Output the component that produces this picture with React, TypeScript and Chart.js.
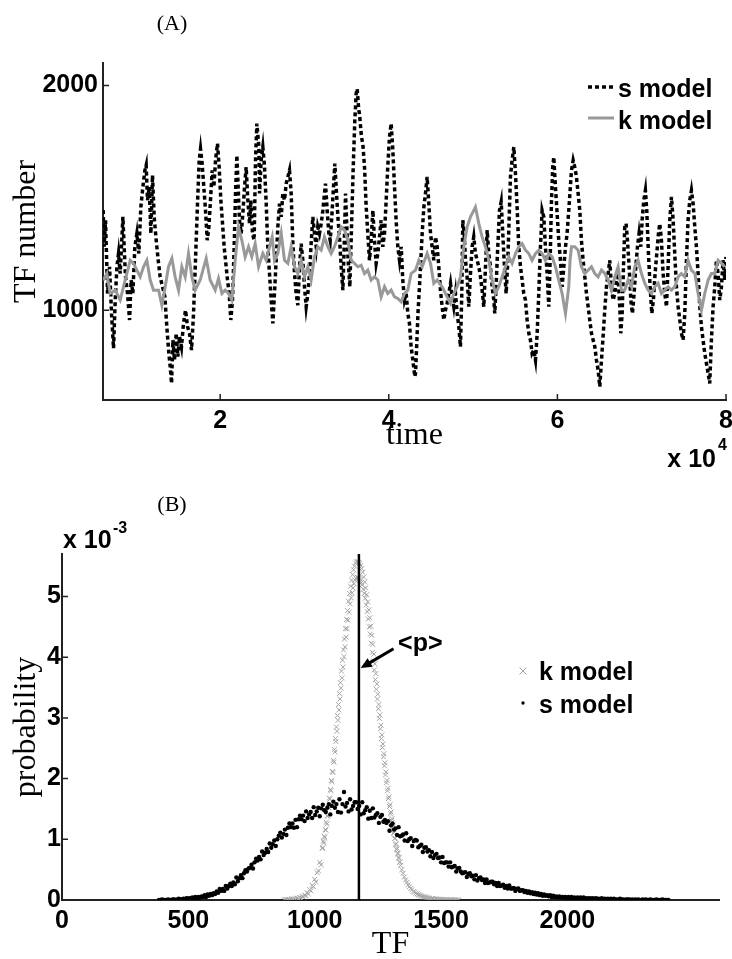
import React, { useEffect, useRef } from "react";
import { Chart, registerables } from "chart.js";

Chart.register(...registerables);

// ---------------- Panel (A): TF number vs time ----------------
const sModelSeries: [number, number][] = [
  [6120,1445],[6240,1282],[6400,1400],[6640,1074],[6880,1193],[7110,985],[7350,830],[7550,1045],[7750,1193],[7940,1252],
  [8140,1163],[8460,1415],[8610,1282],[8770,1148],[9010,1074],[9250,956],[9440,1134],[9640,1074],[9880,1282],[10120,1341],
  [10350,1252],[10590,1459],[10830,1548],[11070,1622],[11220,1645],[11380,1489],[11580,1548],[11780,1341],[11970,1600],[12170,1415],
  [12410,1311],[12650,1222],[12880,1148],[13160,1104],[13440,1059],[13670,926],[13910,808],[14070,749],[14230,674],[14390,867],
  [14580,778],[14780,897],[14980,793],[15180,882],[15410,837],[15650,941],[15890,1000],[16130,926],[16360,897],[16600,822],
  [16840,985],[17070,1222],[17310,1474],[17510,1667],[17670,1718],[17860,1652],[18060,1548],[18260,1444],[18460,1311],[18660,1370],
  [18850,1489],[19050,1622],[19250,1548],[19450,1667],[19680,1741],[19880,1637],[20080,1489],[20280,1385],[20470,1282],[20670,1208],
  [20870,1134],[21070,1074],[21260,956],[21460,1045],[21660,1282],[21820,1519],[21980,1689],[22130,1548],[22290,1400],[22490,1341],
  [22690,1430],[22890,1548],[23080,1637],[23280,1489],[23480,1385],[23640,1489],[23830,1341],[24030,1311],[24190,1667],[24350,1830],
  [24590,1726],[24670,1519],[24860,1667],[25060,1726],[25260,1637],[25460,1474],[25650,1282],[25850,1163],[26050,1045],[26250,941],
  [26440,1074],[26640,1222],[26840,1370],[27040,1474],[27240,1415],[27430,1519],[27630,1489],[27830,1563],[28030,1593],[28220,1622],
  [28420,1519],[28620,1296],[28820,1163],[29010,1074],[29210,1022],[29410,1193],[29610,1296],[29800,1222],[30000,1104],[30200,1015],
  [30400,1074],[30600,1163],[30790,1296],[30990,1415],[31190,1341],[31390,1282],[31580,1370],[31780,1341],[31980,1385],[32180,1444],
  [32370,1519],[32490,1563],[32690,1444],[32890,1341],[33050,1311],[33240,1415],[33440,1548],[33600,1652],[33800,1519],[33990,1400],
  [34150,1326],[34350,1193],[34550,1089],[34710,1282],[34870,1519],[35020,1370],[35180,1222],[35380,1104],[35580,1370],[35770,1622],
  [35970,1844],[36130,1963],[36250,1985],[36410,1904],[36560,1859],[36760,1770],[36920,1741],[37120,1637],[37320,1459],[37510,1341],
  [37710,1222],[37910,1311],[38110,1444],[38300,1311],[38500,1208],[38700,1252],[38900,1326],[39090,1400],[39290,1282],[39490,1341],
  [39690,1489],[39880,1637],[40080,1770],[40280,1830],[40480,1711],[40680,1548],[40870,1400],[41070,1282],[41270,1222],[41470,1282],
  [41660,1134],[41860,1045],[42060,1074],[42260,985],[42450,941],[42650,837],[42850,778],[43090,704],[43170,719],[43320,852],
  [43480,1000],[43640,1104],[43800,1222],[43960,1341],[44160,1459],[44350,1519],[44550,1593],[44750,1474],[44950,1341],[45140,1282],
  [45340,1222],[45540,1326],[45740,1282],[45930,1193],[46130,1089],[46330,1015],[46530,956],[46720,1000],[46920,1030],[47120,1074],
  [47320,1119],[47520,1059],[47710,1015],[47910,1074],[48110,985],[48310,926],[48500,837],[48660,1074],[48780,1400],[48940,1341],
  [49100,1222],[49290,1148],[49490,1015],[49690,1163],[49890,1282],[50080,1326],[50280,1252],[50480,1222],[50680,1193],[50880,1148],
  [51070,1089],[51270,1015],[51470,1193],[51670,1356],[51860,1252],[52060,1193],[52260,1104],[52460,1045],[52570,985],[52730,1104],
  [52890,1252],[53130,1444],[53330,1482],[53520,1341],[53720,1193],[53920,1074],[54120,1222],[54270,1400],[54430,1593],[54630,1667],
  [54830,1726],[55030,1607],[55220,1459],[55420,1282],[55620,1193],[55820,1134],[56010,1074],[56210,1045],[56410,956],[56610,897],
  [56800,867],[57000,808],[57200,822],[57400,778],[57600,897],[57790,1074],[57990,1282],[58190,1444],[58390,1415],[58580,1282],
  [58780,1163],[58980,1015],[59140,1222],[59300,1489],[59450,1637],[59570,1681],[59770,1548],[59970,1430],[60160,1311],[60360,1222],
  [60560,1104],[60760,1193],[60960,1282],[61150,1341],[61350,1444],[61590,1578],[61670,1622],[61870,1667],[62060,1637],[62260,1593],
  [62460,1519],[62660,1444],[62850,1311],[63050,1222],[63250,1148],[63450,1074],[63650,1015],[63840,956],[64040,897],[64240,867],
  [64440,837],[64630,778],[64830,734],[65030,660],[65230,778],[65420,882],[65620,1000],[65820,1104],[66020,1163],[66210,1222],
  [66410,1104],[66610,1045],[66810,1074],[67010,1134],[67200,1148],[67400,1015],[67520,897],[67680,985],[67840,1193],[67990,1370],
  [68150,1385],[68310,1311],[68510,1193],[68710,1045],[68900,985],[69100,1074],[69300,1193],[69500,1282],[69690,1341],[69890,1282],
  [70050,1400],[70250,1489],[70440,1533],[70600,1444],[70800,1252],[71000,1104],[71200,985],[71390,1045],[71590,1163],[71790,1252],
  [71990,1341],[72140,1385],[72340,1311],[72540,1163],[72740,1074],[72940,1015],[73130,1193],[73330,1400],[73530,1504],[73730,1400],
  [73920,1252],[74120,1104],[74320,1015],[74520,956],[74710,897],[74910,867],[75110,985],[75310,1222],[75500,1400],[75700,1489],
  [75900,1533],[76100,1474],[76300,1370],[76490,1282],[76690,1163],[76890,1015],[77090,926],[77280,867],[77480,808],[77680,763],
  [77880,719],[78070,674],[78270,867],[78470,1015],[78670,1104],[78860,1222],[79060,1163],[79260,1045],[79460,1104],[79650,1222],
  [79850,1134],[80000,1237],
];

const kModelSeries: [number, number][] = [
  [6120,1133],[6560,1163],[6950,1074],[7550,1089],[8140,1045],[8730,1134],[9330,1222],[9720,1208],[10120,1178],[10510,1148],
  [10910,1193],[11300,1222],[11700,1134],[12090,1089],[12690,1089],[13080,1022],[13480,1104],[13870,1193],[14270,1230],[14660,1148],
  [15060,1089],[15450,1193],[15850,1148],[16240,1252],[16640,1148],[17030,1089],[17630,1134],[18340,1230],[18810,1134],[19410,1089],
  [19800,1141],[20200,1074],[20590,1089],[20990,1074],[21380,1045],[21780,1222],[22170,1370],[22570,1311],[22960,1237],[23360,1282],
  [23750,1237],[24150,1296],[24550,1193],[25060,1252],[25460,1222],[25850,1282],[26170,1326],[26440,1222],[26840,1252],[27240,1341],
  [27630,1222],[28030,1208],[28420,1282],[28820,1193],[29210,1163],[29610,1222],[30000,1148],[30400,1193],[30790,1134],[31190,1237],
  [31580,1282],[31980,1267],[32370,1326],[32770,1282],[33160,1252],[33560,1282],[33960,1326],[34350,1370],[34750,1356],[35140,1311],
  [35540,1222],[35930,1208],[36330,1193],[36720,1200],[37120,1163],[37510,1178],[37910,1134],[38300,1148],[38700,1134],[39090,1059],
  [39490,1104],[39880,1074],[40280,1089],[40680,1059],[41070,1052],[41470,1037],[41860,1074],[42260,1089],[42650,1163],[43170,1178],
  [43560,1222],[43960,1193],[44550,1252],[44950,1208],[45340,1119],[45740,1134],[46330,1104],[46920,1059],[47320,1030],[47710,1074],
  [48110,1104],[48500,1148],[48900,1282],[49290,1370],[49690,1415],[50080,1444],[50280,1459],[50680,1385],[51070,1326],[51470,1282],
  [51860,1222],[52260,1134],[52650,1074],[53050,1104],[53440,1148],[53840,1193],[54240,1237],[54630,1208],[55030,1252],[55420,1282],
  [55820,1296],[56210,1267],[56610,1252],[57000,1222],[57400,1252],[57790,1267],[58190,1252],[58580,1222],[58980,1252],[59370,1237],
  [59770,1193],[60160,1134],[60560,1074],[60960,985],[61350,1104],[61500,1222],[61670,1282],[62060,1282],[62460,1267],[62850,1193],
  [63250,1163],[63650,1178],[64040,1193],[64440,1163],[64830,1148],[65230,1178],[65620,1163],[66020,1134],[66410,1089],[66810,1148],
  [67200,1193],[67600,1089],[67990,1089],[68390,1134],[68780,1104],[69180,1193],[69570,1222],[69970,1163],[70370,1119],[70760,1089],
  [71160,1074],[71550,1104],[71950,1119],[72340,1074],[72740,1089],[73130,1104],[73530,1089],[73920,1104],[74320,1148],[74710,1163],
  [75110,1148],[75500,1222],[75900,1178],[76300,1163],[76690,1074],[77090,1000],[77480,1074],[77880,1134],[78270,1163],[78670,1163],
  [79060,1222],[79460,1208],[79850,1193],
];

const timeMin = 6100;
const timeMax = 80000;
const timeTicks = [20000, 40000, 60000, 80000];
const countMin = 600;
const countMax = 2100;
const countTicks = [1000, 2000];

// ---------------- Panel (B): probability (x 1e-3) vs TF ----------------
// k model: left tail (step 5), steep core (step 2), right tail (step 5)
const kLeftStart = 880, kLeftStep = 5;
const kProbLeft = [
  0.00,0.01,0.00,0.01,0.01,0.00,0.02,0.01,0.02,0.01,
  0.03,0.02,0.04,0.03,0.06,0.05,0.08,0.07,0.12,0.10,
  0.17,0.15,0.24,0.22,0.34,0.30,0.45,0.48,0.62,0.58,
];
const kCoreStart = 1030, kCoreStep = 2;
const kProbCore = [
  0.85,0.86,0.97,0.94,1.05,1.03,1.16,1.15,1.28,1.25,
  1.38,1.39,1.53,1.52,1.68,1.66,1.82,1.80,1.97,1.95,
  2.12,2.10,2.30,2.27,2.48,2.44,2.66,2.61,2.85,2.78,
  3.04,2.96,3.22,3.13,3.40,3.31,3.58,3.49,3.77,3.66,
  3.95,3.84,4.12,4.01,4.30,4.17,4.47,4.33,4.62,4.47,
  4.77,4.61,4.92,4.74,5.05,4.88,5.17,4.98,5.27,5.06,
  5.36,5.14,5.44,5.21,5.50,5.27,5.55,5.30,5.57,5.32,
  5.58,5.31,5.56,5.30,5.54,5.28,5.51,5.23,5.46,5.19,
  5.40,5.12,5.32,5.05,5.24,4.97,5.14,4.86,5.03,4.75,
  4.91,4.63,4.78,4.50,4.65,4.38,4.51,4.23,4.36,4.08,
  4.21,3.94,4.05,3.79,3.89,3.63,3.73,3.47,3.56,3.31,
  3.39,3.15,3.22,2.99,3.05,2.82,2.88,2.66,2.72,2.51,
  2.57,2.36,2.41,2.21,2.26,2.06,2.11,1.93,1.97,1.80,
  1.84,1.67,1.70,1.54,1.57,1.42,1.45,1.31,1.34,1.20,
  1.23,1.10,1.12,1.01,1.02,0.91,0.93,0.83,0.85,0.76,
  0.77,0.69,0.70,0.62,0.63,
];
const kRightStart = 1340, kRightStep = 5;
const kProbRight = [
  0.57,0.50,0.44,0.38,0.33,0.29,0.25,0.22,
  0.19,0.17,0.14,0.13,0.11,0.10,0.09,0.08,0.07,0.06,
  0.05,0.05,0.04,0.04,0.03,0.03,0.02,0.02,0.02,0.01,
  0.02,0.01,0.01,0.01,0.01,0.00,0.01,0.00,0.01,0.00,
  0.00,0.01,0.00,0.00,0.00,0.00,0.00,0.00,0.00,
];

const sTfStart = 384;
const sTfStep = 6;
const sProb = [
  0.00,0.00,0.01,0.00,0.00,0.00,0.01,0.00,0.00,0.01,
  0.01,0.00,0.01,0.02,0.01,0.01,0.02,0.01,0.03,0.02,
  0.03,0.02,0.04,0.02,0.05,0.03,0.05,0.04,0.06,0.05,
  0.08,0.05,0.09,0.07,0.10,0.08,0.11,0.10,0.14,0.12,
  0.18,0.15,0.18,0.15,0.23,0.19,0.23,0.27,0.23,0.29,
  0.26,0.37,0.31,0.36,0.41,0.36,0.44,0.49,0.47,0.52,
  0.53,0.58,0.52,0.62,0.68,0.65,0.71,0.67,0.80,0.74,
  0.78,0.84,0.79,0.93,0.86,0.92,0.98,0.89,1.00,1.06,
  1.11,1.03,1.09,1.16,1.07,1.19,1.26,1.20,1.26,1.19,
  1.32,1.20,1.33,1.39,1.33,1.39,1.30,1.46,1.35,1.41,
  1.45,1.35,1.53,1.40,1.46,1.52,1.38,1.51,1.57,1.48,
  1.45,1.52,1.58,1.41,1.55,1.62,1.52,1.58,1.45,1.66,
  1.44,1.58,1.78,1.54,1.60,1.46,1.66,1.49,1.55,1.61,
  1.61,1.50,1.55,1.41,1.61,1.43,1.48,1.53,1.34,1.47,
  1.35,1.51,1.36,1.40,1.43,1.27,1.37,1.40,1.29,1.32,
  1.27,1.30,1.14,1.23,1.26,1.16,1.18,1.07,1.20,1.05,
  1.06,1.08,0.98,1.10,0.97,1.00,1.02,0.89,0.97,0.99,
  0.98,0.87,0.89,0.91,0.79,0.86,0.87,0.80,0.82,0.72,
  0.79,0.69,0.74,0.76,0.69,0.70,0.62,0.71,0.61,0.62,
  0.62,0.55,0.62,0.54,0.55,0.56,0.47,0.52,0.53,0.47,
  0.44,0.45,0.46,0.38,0.43,0.44,0.39,0.40,0.34,0.41,
  0.32,0.36,0.37,0.33,0.34,0.28,0.34,0.28,0.29,0.30,
  0.30,0.26,0.28,0.23,0.28,0.23,0.24,0.25,0.20,0.23,
  0.19,0.24,0.19,0.19,0.20,0.15,0.18,0.19,0.15,0.16,
  0.16,0.13,0.15,0.12,0.14,0.11,0.13,0.10,0.12,0.09,
  0.11,0.08,0.10,0.07,0.09,0.07,0.08,0.06,0.08,0.05,
  0.07,0.05,0.06,0.04,0.06,0.04,0.05,0.04,0.05,0.03,
  0.05,0.03,0.05,0.03,0.04,0.03,0.04,0.02,0.04,0.03,
  0.04,0.02,0.03,0.02,0.03,0.02,0.03,0.01,0.03,0.02,
  0.02,0.01,0.03,0.01,0.02,0.01,0.02,0.01,0.02,0.01,
  0.02,0.01,0.01,0.00,0.02,0.01,0.01,0.00,0.01,0.01,
  0.01,0.00,0.01,0.00,0.01,0.00,0.01,0.00,0.00,0.01,
  0.00,0.01,0.00,0.00,0.01,0.00,0.00,0.00,0.01,0.00,
  0.00,0.00,0.01,0.00,0.00,0.00,0.00,
];

const pMean = 1175;
const tfMin = 0;
const tfMax = 2600;
const tfTicks = [0, 500, 1000, 1500, 2000];
const probMin = 0;
const probMax = 5.7;
const probTicks = [0, 1, 2, 3, 4, 5];
// annotation "<p>" arrow (data coordinates: TF, probability x1e-3)
const arrowTail: [number, number] = [1312, 4.14];
const arrowTip: [number, number] = [1182, 3.82];
const pLabelAt: [number, number] = [1330, 4.1];

// ---------------- styles ----------------
const SANS = "'Liberation Sans', Arial, Helvetica, sans-serif";
const SERIF = "'Liberation Serif', 'Times New Roman', serif";
const BLACK = "#000000";
const AXIS = "#222222";
const GRAY_LINE = "#999999";
const GRAY_X = "#a4a4a4";
const S_DASH = [4, 3];

function txt(ctx: CanvasRenderingContext2D, s: string, x: number, y: number, font: string, align: CanvasTextAlign = "left", rot = 0) {
  ctx.save();
  ctx.font = font;
  ctx.fillStyle = BLACK;
  ctx.textAlign = align;
  ctx.textBaseline = "alphabetic";
  ctx.translate(x, y);
  if (rot) ctx.rotate(rot);
  ctx.fillText(s, 0, 0);
  ctx.restore();
}

const panelAPlugin = {
  id: "panelA",
  afterDraw(chart: any) {
    const { ctx, chartArea, scales } = chart;
    const xs = scales.x, ys = scales.y;
    ctx.save();
    ctx.strokeStyle = AXIS;
    ctx.lineWidth = 1.5;
    ctx.beginPath();
    timeTicks.forEach((v) => {
      const px = xs.getPixelForValue(v);
      ctx.moveTo(px, chartArea.bottom);
      ctx.lineTo(px, chartArea.bottom - 6);
    });
    countTicks.forEach((v) => {
      const py = ys.getPixelForValue(v);
      ctx.moveTo(chartArea.left, py);
      ctx.lineTo(chartArea.left + 6, py);
    });
    ctx.stroke();

    // legend
    const ds = chart.data.datasets;
    const lx0 = chartArea.right - 138, lx1 = chartArea.right - 112;
    ctx.lineWidth = 3.5;
    ctx.strokeStyle = ds[0].borderColor;
    ctx.setLineDash(S_DASH);
    ctx.beginPath(); ctx.moveTo(lx0, 87); ctx.lineTo(lx1, 87); ctx.stroke();
    ctx.setLineDash([]);
    ctx.lineWidth = 3;
    ctx.strokeStyle = ds[1].borderColor;
    ctx.beginPath(); ctx.moveTo(lx0, 118); ctx.lineTo(lx1, 118); ctx.stroke();
    ctx.restore();

    const bold = `bold 25px ${SANS}`;
    txt(ctx, ds[0].label, lx1 + 4, 97, bold);
    txt(ctx, ds[1].label, lx1 + 4, 129, bold);

    // titles
    txt(ctx, "(A)", 172, 30, `22px ${SERIF}`, "center");
    txt(ctx, "TF number", 35, (chartArea.top + chartArea.bottom) / 2, `32px ${SERIF}`, "center", -Math.PI / 2);
    txt(ctx, "time", (chartArea.left + chartArea.right) / 2, 444, `32px ${SERIF}`, "center");
    txt(ctx, "x 10", chartArea.right - 10, 467, bold, "right");
    txt(ctx, "4", chartArea.right - 8, 450, `bold 16px ${SANS}`, "left");
  },
};

const panelBPlugin = {
  id: "panelB",
  afterDraw(chart: any) {
    const { ctx, chartArea, scales } = chart;
    const xs = scales.x, ys = scales.y;
    ctx.save();
    ctx.strokeStyle = AXIS;
    ctx.lineWidth = 1.5;
    ctx.beginPath();
    probTicks.forEach((v) => {
      const py = ys.getPixelForValue(v);
      ctx.moveTo(chartArea.left, py);
      ctx.lineTo(chartArea.left + 6, py);
    });
    ctx.stroke();

    // arrow annotation
    const tx = xs.getPixelForValue(arrowTail[0]), ty = ys.getPixelForValue(arrowTail[1]);
    const hx = xs.getPixelForValue(arrowTip[0]), hy = ys.getPixelForValue(arrowTip[1]);
    const ang = Math.atan2(hy - ty, hx - tx);
    const hl = 11, hw = 5;
    ctx.strokeStyle = BLACK;
    ctx.fillStyle = BLACK;
    ctx.lineWidth = 3;
    ctx.beginPath();
    ctx.moveTo(tx, ty);
    ctx.lineTo(hx - Math.cos(ang) * hl * 0.8, hy - Math.sin(ang) * hl * 0.8);
    ctx.stroke();
    ctx.beginPath();
    ctx.moveTo(hx, hy);
    ctx.lineTo(hx - Math.cos(ang) * hl + Math.sin(ang) * hw, hy - Math.sin(ang) * hl - Math.cos(ang) * hw);
    ctx.lineTo(hx - Math.cos(ang) * hl - Math.sin(ang) * hw, hy - Math.sin(ang) * hl + Math.cos(ang) * hw);
    ctx.closePath();
    ctx.fill();

    // legend
    const ds = chart.data.datasets;
    const mx = chartArea.right - 196;
    ctx.strokeStyle = ds[0].borderColor;
    ctx.lineWidth = 1;
    ctx.beginPath();
    ctx.moveTo(mx - 3.5, 191 - 3.5); ctx.lineTo(mx + 3.5, 191 + 3.5);
    ctx.moveTo(mx - 3.5, 191 + 3.5); ctx.lineTo(mx + 3.5, 191 - 3.5);
    ctx.stroke();
    ctx.fillStyle = ds[1].backgroundColor;
    ctx.beginPath(); ctx.arc(mx, 223, 1.7, 0, Math.PI * 2); ctx.fill();
    ctx.restore();

    const bold = `bold 25px ${SANS}`;
    txt(ctx, ds[0].label, mx + 16, 200, bold);
    txt(ctx, ds[1].label, mx + 16, 233, bold);
    txt(ctx, "<p>", xs.getPixelForValue(pLabelAt[0]), ys.getPixelForValue(pLabelAt[1]), bold);

    // titles
    txt(ctx, "(B)", 172, 31, `22px ${SERIF}`, "center");
    txt(ctx, "x 10", chartArea.left + 1, 68, bold);
    txt(ctx, "-3", chartArea.left + 51, 53, `bold 16px ${SANS}`);
    txt(ctx, "probability", 35, (chartArea.top + chartArea.bottom) / 2, `32px ${SERIF}`, "center", -Math.PI / 2);
    txt(ctx, "TF", (chartArea.left + chartArea.right) / 2, 473, `32px ${SERIF}`, "center");
  },
};

const tickFont = { family: SANS, size: 25, weight: "bold" as const };
const plain = (v: any) => String(v);

export default function App() {
  const refA = useRef<HTMLCanvasElement>(null);
  const refB = useRef<HTMLCanvasElement>(null);

  useEffect(() => {
    const chartA = new Chart(refA.current as HTMLCanvasElement, {
      type: "line",
      data: {
        datasets: [
          {
            label: "s model",
            data: sModelSeries.map(([t, v]) => ({ x: t, y: v })),
            borderColor: BLACK,
            borderWidth: 3.5,
            borderDash: S_DASH,
            pointRadius: 0,
            tension: 0,
            fill: false,
            order: 1,
          },
          {
            label: "k model",
            data: kModelSeries.map(([t, v]) => ({ x: t, y: v })),
            borderColor: GRAY_LINE,
            borderWidth: 3,
            pointRadius: 0,
            tension: 0,
            fill: false,
            order: 0,
          },
        ],
      },
      options: {
        animation: false,
        responsive: false,
        devicePixelRatio: 1,
        layout: { padding: { left: 0, right: 6, top: 63, bottom: 0 } },
        plugins: { legend: { display: false }, title: { display: false }, tooltip: { enabled: false } },
        scales: {
          x: {
            type: "linear",
            min: timeMin,
            max: timeMax,
            afterBuildTicks: (s: any) => { s.ticks = timeTicks.map((v) => ({ value: v })); },
            afterFit: (s: any) => { s.height = 80; s.paddingLeft = 0; s.paddingRight = 0; },
            ticks: { callback: (v: any) => String(Number(v) / 10000), font: tickFont, color: BLACK, padding: 6, maxRotation: 0, autoSkip: false },
            grid: { display: false, drawTicks: false },
            border: { display: true, color: AXIS, width: 2 },
          },
          y: {
            type: "linear",
            min: countMin,
            max: countMax,
            afterBuildTicks: (s: any) => { s.ticks = countTicks.map((v) => ({ value: v })); },
            afterFit: (s: any) => { s.width = 103; s.paddingTop = 0; s.paddingBottom = 0; },
            ticks: { callback: plain, font: tickFont, color: BLACK, padding: 5, autoSkip: false },
            grid: { display: false, drawTicks: false },
            border: { display: true, color: AXIS, width: 2 },
          },
        },
      } as any,
      plugins: [panelAPlugin],
    });

    const kPoints = [
      ...kProbLeft.map((p, i) => ({ x: kLeftStart + i * kLeftStep, y: p })),
      ...kProbCore.map((p, i) => ({ x: kCoreStart + i * kCoreStep, y: p })),
      ...kProbRight.map((p, i) => ({ x: kRightStart + i * kRightStep, y: p })),
    ];

    const chartB = new Chart(refB.current as HTMLCanvasElement, {
      type: "scatter",
      data: {
        datasets: [
          {
            label: "k model",
            data: kPoints,
            pointStyle: "crossRot",
            pointRadius: 3.5,
            borderColor: GRAY_X,
            backgroundColor: GRAY_X,
            borderWidth: 1,
            order: 2,
          },
          {
            label: "s model",
            data: sProb.map((p, i) => ({ x: sTfStart + i * sTfStep, y: p })),
            pointStyle: "circle",
            pointRadius: 2.2,
            borderWidth: 0,
            backgroundColor: BLACK,
            borderColor: BLACK,
            order: 1,
          },
          {
            type: "line",
            label: "<p>",
            data: [{ x: pMean, y: probMin }, { x: pMean, y: probMax }],
            borderColor: BLACK,
            borderWidth: 2.5,
            pointRadius: 0,
            order: 0,
          },
        ],
      } as any,
      options: {
        animation: false,
        responsive: false,
        devicePixelRatio: 1,
        layout: { padding: { left: 0, right: 13, top: 74, bottom: 0 } },
        plugins: { legend: { display: false }, title: { display: false }, tooltip: { enabled: false } },
        scales: {
          x: {
            type: "linear",
            min: tfMin,
            max: tfMax,
            afterBuildTicks: (s: any) => { s.ticks = tfTicks.map((v) => ({ value: v })); },
            afterFit: (s: any) => { s.height = 59; s.paddingLeft = 0; s.paddingRight = 0; },
            ticks: { callback: plain, font: tickFont, color: BLACK, padding: 6, maxRotation: 0, autoSkip: false },
            grid: { display: false, drawTicks: false },
            border: { display: true, color: AXIS, width: 2 },
          },
          y: {
            type: "linear",
            min: probMin,
            max: probMax,
            afterBuildTicks: (s: any) => { s.ticks = probTicks.map((v) => ({ value: v })); },
            afterFit: (s: any) => { s.width = 62; s.paddingTop = 0; s.paddingBottom = 0; },
            ticks: { callback: plain, font: tickFont, color: BLACK, padding: 1, autoSkip: false },
            grid: { display: false, drawTicks: false },
            border: { display: true, color: AXIS, width: 2 },
          },
        },
      } as any,
      plugins: [panelBPlugin],
    });

    return () => {
      chartA.destroy();
      chartB.destroy();
    };
  }, []);

  return (
    <div style={{ position: "absolute", left: 0, top: 0, width: 732, height: 959, background: "#ffffff" }}>
      <canvas ref={refA} width={732} height={480} style={{ position: "absolute", left: 0, top: 0, width: 732, height: 480 }} />
      <canvas ref={refB} width={732} height={479} style={{ position: "absolute", left: 0, top: 480, width: 732, height: 479 }} />
    </div>
  );
}
